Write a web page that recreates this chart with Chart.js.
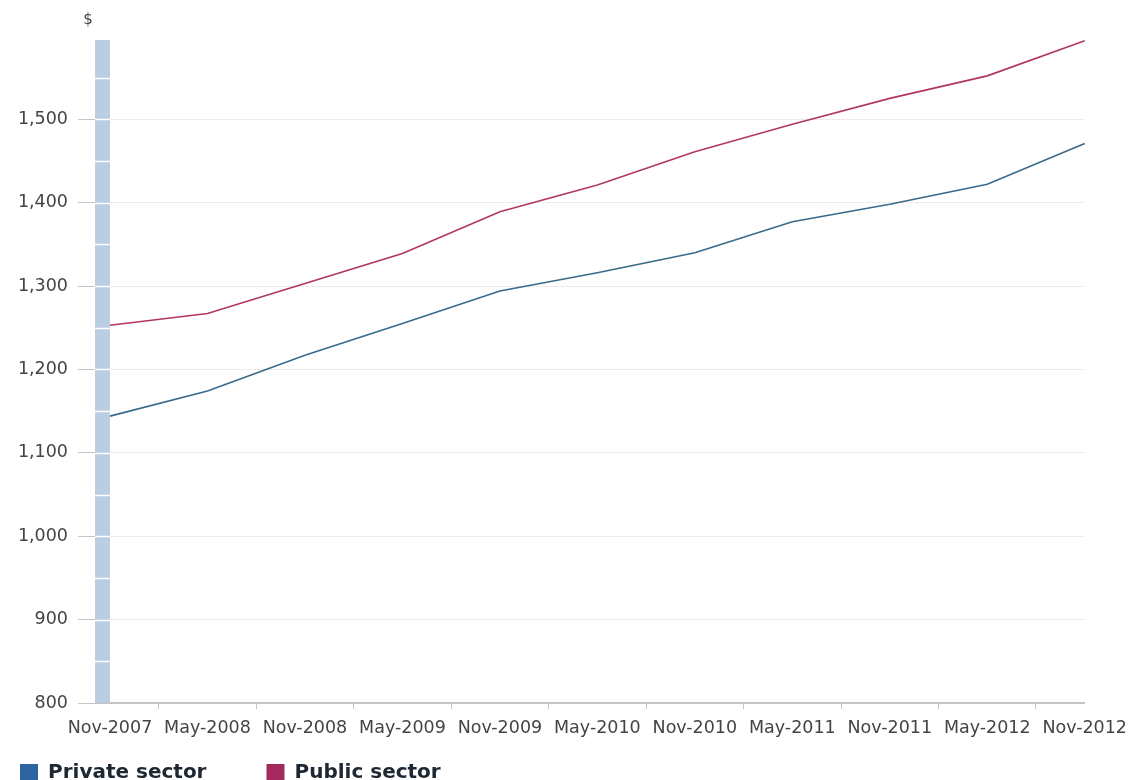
<!DOCTYPE html>
<html>
<head>
<meta charset="utf-8">
<script src="https://cdn.jsdelivr.net/npm/chart.js@4.4.1/dist/chart.umd.min.js"></script>
<style>
  html, body { margin: 0; padding: 0; background: #fff; overflow: hidden; }
  #wrap { width: 1136px; height: 780px; overflow: hidden; }
  canvas { display: block; }
</style>
</head>
<body>
<div id="wrap"><canvas id="c" width="1136" height="793"></canvas></div>
<script>
const categories = ['Nov-2007','May-2008','Nov-2008','May-2009','Nov-2009','May-2010','Nov-2010','May-2011','Nov-2011','May-2012','Nov-2012'];
const privateSector = [1144, 1174, 1217, 1255, 1294, 1316, 1340, 1377, 1398, 1422, 1471];
const publicSector  = [1253, 1267, 1303, 1339, 1389, 1421, 1461, 1494, 1525, 1552, 1594];
const seriesNames = ['Private sector', 'Public sector'];
const yTickValues = [800, 900, 1000, 1100, 1200, 1300, 1400, 1500];
const yUnit = '$';

const FONT = '"DejaVu Sans", Verdana, sans-serif';

const axisBarPlugin = {
  id: 'axisBar',
  afterLayout(chart) {
    // let the x-axis labels draw below the axis even though the axis takes no layout room
    const x = chart.scales.x;
    x.bottom = x.top + 45;
    x.height = 45;
  },
  afterDraw(chart) {
    const {ctx, chartArea, scales} = chart;
    const y = scales.y;
    const w = 15;
    ctx.save();
    ctx.fillStyle = '#bacde2';
    ctx.fillRect(chartArea.left - w, chartArea.top, w, chartArea.bottom - chartArea.top);
    ctx.strokeStyle = '#ffffff';
    ctx.lineWidth = 1.5;
    for (let v = y.min + 50; v < y.max; v += 50) {
      const py = Math.round(y.getPixelForValue(v)) + 0.5;
      ctx.beginPath();
      ctx.moveTo(chartArea.left - w, py);
      ctx.lineTo(chartArea.left, py);
      ctx.stroke();
    }
    ctx.fillStyle = '#444';
    ctx.font = '15px ' + FONT;
    ctx.textAlign = 'center';
    ctx.textBaseline = 'middle';
    ctx.fillText(yUnit, chartArea.left - 22, chartArea.top - 20);
    ctx.restore();
  }
};

new Chart(document.getElementById('c'), {
  type: 'line',
  data: {
    labels: categories,
    datasets: [
      { label: seriesNames[0], data: privateSector, borderColor: '#386a8c', backgroundColor: '#2b64a0', borderWidth: 1.6, pointRadius: 0, tension: 0, fill: false },
      { label: seriesNames[1], data: publicSector, borderColor: '#b2385a', backgroundColor: '#a32a5a', borderWidth: 1.6, pointRadius: 0, tension: 0, fill: false }
    ]
  },
  options: {
    responsive: false,
    animation: false,
    layout: { padding: { top: 40, right: 48, left: -40, bottom: 0 } },
    plugins: {
      title: { display: false },
      tooltip: { enabled: false },
      legend: {
        position: 'bottom',
        align: 'start',
        labels: {
          boxWidth: 18,
          boxHeight: 18,
          padding: 60,
          color: '#1d2833',
          font: { family: FONT, size: 20, weight: 'bold' },
          generateLabels(chart) {
            return chart.data.datasets.map((ds, i) => ({
              text: ds.label,
              fillStyle: ds.backgroundColor,
              strokeStyle: ds.backgroundColor,
              lineWidth: 0,
              hidden: false,
              datasetIndex: i,
              fontColor: '#1d2833'
            }));
          }
        }
      }
    },
    scales: {
      x: {
        type: 'category',
        offset: false,
        afterFit(s) { s.height = 0; },
        grid: { display: true, offset: true, drawOnChartArea: false, drawTicks: true, tickLength: 6, color: '#c4c4c4' },
        border: { display: true, color: '#c4c4c4', width: 2 },
        ticks: { autoSkip: false, maxRotation: 0, minRotation: 0, padding: 9, color: '#444', font: { family: FONT, size: 17.5 } }
      },
      y: {
        min: 800,
        max: 1595,
        afterFit(s) { s.width = 150; },
        afterBuildTicks(s) { s.ticks = yTickValues.map(v => ({ value: v })); },
        grid: { color: '#ececec', tickColor: '#c4c4c4', tickLength: 32, drawTicks: true },
        border: { display: false },
        ticks: {
          padding: 10,
          color: '#444',
          font: { family: FONT, size: 17.5 },
          callback: v => Number(v).toLocaleString('en-US')
        }
      }
    }
  },
  plugins: [axisBarPlugin]
});
</script>
</body>
</html>
